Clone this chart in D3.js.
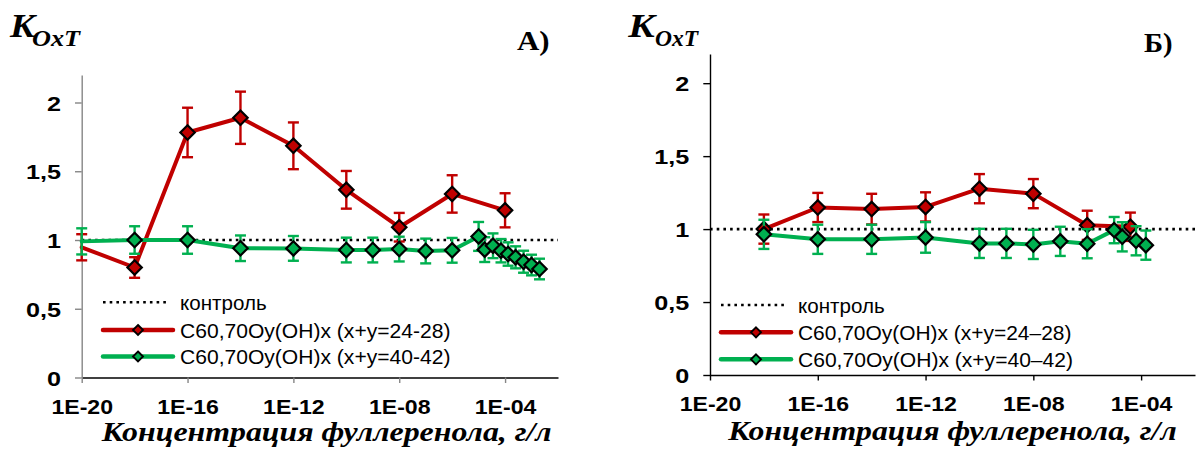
<!DOCTYPE html>
<html><head><meta charset="utf-8">
<script src="https://cdn.jsdelivr.net/npm/d3@7"></script>
<style>body{margin:0;background:#fff}svg{display:block;background:#fff}</style>
</head><body>
<svg id="chart" width="1201" height="450"></svg>
<script>
// ---------- data ----------
const concTicks = [1e-20, 1e-16, 1e-12, 1e-8, 1e-4];
const concTickLabels = ["1E-20", "1E-16", "1E-12", "1E-08", "1E-04"];
const kTicks = [0, 0.5, 1, 1.5, 2];
const kTickLabels = ["0", "0,5", "1", "1,5", "2"];
const controlLevel = 1;

// Panel A
const aRedConc = [1e-20, 1e-18, 1e-16, 1e-14, 1e-12, 1e-10, 1e-8, 1e-6, 1e-4];
const aRedVal  = [0.947, 0.80, 1.782, 1.889, 1.685, 1.365, 1.093, 1.335, 1.216];
const aRedErr  = [0.095, 0.075, 0.18, 0.19, 0.17, 0.137, 0.104, 0.136, 0.124];

const aGreenConc = [1e-20, 1e-18, 1e-16, 1e-14, 1e-12, 1e-10, 1e-9, 1e-8, 1e-7, 1e-6,
                    1e-5, 1.7e-5, 3.5e-5, 7e-5, 1.3e-4, 2.5e-4, 5e-4, 1e-3, 2e-3];
const aGreenVal  = [0.99, 1.0, 1.0, 0.94, 0.939, 0.927, 0.927, 0.934, 0.92, 0.925,
                    1.026, 0.93, 0.958, 0.922, 0.898, 0.874, 0.842, 0.818, 0.789];
const aGreenErr  = [0.095, 0.1, 0.1, 0.093, 0.09, 0.09, 0.09, 0.09, 0.09, 0.09,
                    0.105, 0.09, 0.09, 0.085, 0.085, 0.08, 0.08, 0.075, 0.075];

// Panel Б
const bRedConc = [1e-18, 1e-16, 1e-14, 1e-12, 1e-10, 1e-8, 1e-6, 4e-5];
const bRedVal  = [1.0, 1.148, 1.137, 1.152, 1.277, 1.243, 1.026, 1.016];
const bRedErr  = [0.1, 0.1, 0.105, 0.1, 0.1, 0.1, 0.1, 0.097];

const bGreenConc = [1e-18, 1e-16, 1e-14, 1e-12, 1e-10, 1e-9, 1e-8, 1e-7, 1e-6, 1e-5, 2e-5, 6.5e-5, 1.5e-4];
const bGreenVal  = [0.964, 0.93, 0.93, 0.943, 0.902, 0.902, 0.895, 0.916, 0.9, 0.993, 0.947, 0.92, 0.89];
const bGreenErr  = [0.1, 0.1, 0.1, 0.105, 0.1, 0.1, 0.1, 0.1, 0.1, 0.09, 0.1, 0.1, 0.1];

const legendA = ["контроль", "C60,70Oy(OH)x (x+y=24-28)", "C60,70Oy(OH)x (x+y=40-42)"];
const legendB = ["контроль", "C60,70Oy(OH)x (x+y=24–28)", "C60,70Oy(OH)x (x+y=40–42)"];
const xTitle = "Концентрация фуллеренола, г/л";
const yTitleMain = "K";
const yTitleSub = "OxT";
const panelLabels = ["А)", "Б)"];

// ---------- styling ----------
const RED = "#C00000", GREEN = "#00B050";
const SANS = "'Liberation Sans', Arial, sans-serif";
const SERIF = "'Liberation Serif', 'Times New Roman', serif";

const svg = d3.select("#chart");

function diamond(r) { return `M0,${-r}L${r},0L0,${r}L${-r},0Z`; }

function drawPanel(p) {
  const g = svg.append("g");
  const x = d3.scaleLog().domain([1e-20, 1e-2]).range([p.x0, p.x1]);
  const y = d3.scaleLinear().domain([0, 2.2]).range([p.y0, p.yTop]);

  // control line
  g.append("line")
    .attr("x1", x(1e-20)).attr("x2", x(1e-2))
    .attr("y1", y(controlLevel)).attr("y2", y(controlLevel))
    .attr("stroke", "#000").attr("stroke-width", 2.6)
    .attr("stroke-dasharray", "2.6,4.1");

  // x axis
  const gx = g.append("g").attr("transform", `translate(0,${p.y0})`)
    .call(d3.axisBottom(x).tickValues(concTicks)
      .tickFormat((d, i) => concTickLabels[i]).tickSize(5.5).tickSizeOuter(0));
  gx.select(".domain").attr("stroke", p.xAxisColor).attr("stroke-width", 1.4);
  gx.selectAll(".tick line").attr("stroke", p.yAxisColor).attr("stroke-width", 1.4);
  gx.selectAll(".tick text")
    .attr("y", 36.5).attr("dy", null)
    .attr("font-family", SANS).attr("font-weight", "bold").attr("font-size", 21)
    .attr("fill", "#000").attr("transform", "scale(1.1,1)");

  // y axis
  const gy = g.append("g").attr("transform", `translate(${p.x0},0)`)
    .call(d3.axisLeft(y).tickValues(kTicks)
      .tickFormat((d, i) => kTickLabels[i]).tickSize(6.7).tickSizeOuter(0));
  gy.select(".domain").attr("stroke", p.yAxisColor).attr("stroke-width", 1.4);
  gy.selectAll(".tick line").attr("stroke", p.yAxisColor).attr("stroke-width", 1.4);
  const sy = 1.2;
  gy.selectAll(".tick text")
    .attr("x", -20.7 / sy).attr("dy", null).attr("y", 7.5)
    .attr("text-anchor", "end")
    .attr("font-family", SANS).attr("font-weight", "bold").attr("font-size", 21)
    .attr("fill", "#000").attr("transform", `scale(${sy},1)`);

  // series
  function series(conc, val, err, color, skipFirstMarker) {
    const pts = conc.map((c, i) => ({c, v: val[i], e: err[i], i}));
    const sg = g.append("g");
    const eb = sg.selectAll(".eb").data(pts).enter().append("g")
      .attr("stroke", color).attr("stroke-width", 2.4);
    eb.append("line").attr("x1", d => x(d.c)).attr("x2", d => x(d.c))
      .attr("y1", d => y(d.v + d.e)).attr("y2", d => y(d.v - d.e));
    eb.append("line").attr("x1", d => x(d.c) - 5.5).attr("x2", d => x(d.c) + 5.5)
      .attr("y1", d => y(d.v + d.e)).attr("y2", d => y(d.v + d.e));
    eb.append("line").attr("x1", d => x(d.c) - 5.5).attr("x2", d => x(d.c) + 5.5)
      .attr("y1", d => y(d.v - d.e)).attr("y2", d => y(d.v - d.e));
    sg.append("path").datum(pts)
      .attr("d", d3.line().x(d => x(d.c)).y(d => y(d.v)))
      .attr("fill", "none").attr("stroke", color).attr("stroke-width", 4)
      .attr("stroke-linejoin", "round").attr("stroke-linecap", "round");
    sg.selectAll(".mk").data(pts.filter(d => !(skipFirstMarker && d.i === 0))).enter()
      .append("path").attr("d", diamond(7.2))
      .attr("transform", d => `translate(${x(d.c)},${y(d.v)})`)
      .attr("fill", color).attr("stroke", "#000").attr("stroke-width", 2.2)
      .attr("stroke-linejoin", "miter");
  }
  series(p.redConc, p.redVal, p.redErr, RED, p.skipFirst);
  series(p.greenConc, p.greenVal, p.greenErr, GREEN, p.skipFirst);

  // legend
  const L = p.legend;
  g.append("line").attr("x1", L.x0).attr("x2", L.x1).attr("y1", L.ys[0]).attr("y2", L.ys[0])
    .attr("stroke", "#000").attr("stroke-width", 2.6).attr("stroke-dasharray", "2.6,4.1");
  [RED, GREEN].forEach((col, k) => {
    const yy = L.ys[k + 1];
    g.append("line").attr("x1", L.x0).attr("x2", L.x1 + 3).attr("y1", yy).attr("y2", yy)
      .attr("stroke", col).attr("stroke-width", 4.5).attr("stroke-linecap", "round");
    g.append("path").attr("d", diamond(5))
      .attr("transform", `translate(${(L.x0 + L.x1 + 3) / 2},${yy})`)
      .attr("fill", col).attr("stroke", "#000").attr("stroke-width", 1.9);
  });
  p.legendLabels.forEach((t, k) => {
    g.append("text").attr("x", L.tx).attr("y", L.ys[k] + 7.5)
      .attr("font-family", SANS).attr("font-size", 20).attr("fill", "#000")
      .attr("textLength", L.tw[k]).attr("lengthAdjust", "spacingAndGlyphs")
      .text(t);
  });

  // titles
  const T = p.titles;
  g.append("text").attr("x", T.kx).attr("y", 36.7)
    .attr("font-family", SERIF).attr("font-weight", "bold").attr("font-style", "italic")
    .attr("font-size", 34).attr("textLength", T.kw).attr("lengthAdjust", "spacingAndGlyphs")
    .text(yTitleMain);
  g.append("text").attr("x", T.sx).attr("y", 45.5)
    .attr("font-family", SERIF).attr("font-weight", "bold").attr("font-style", "italic")
    .attr("font-size", 24).attr("textLength", T.sw).attr("lengthAdjust", "spacingAndGlyphs")
    .text(yTitleSub);
  g.append("text").attr("x", T.px).attr("y", T.py)
    .attr("font-family", SERIF).attr("font-weight", "bold")
    .attr("font-size", 27).attr("textLength", T.pw).attr("lengthAdjust", "spacingAndGlyphs")
    .text(p.panelLabel);
  g.append("text").attr("x", T.xtx).attr("y", T.xty)
    .attr("font-family", SERIF).attr("font-weight", "bold").attr("font-style", "italic")
    .attr("font-size", 26.5).attr("textLength", T.xtw).attr("lengthAdjust", "spacingAndGlyphs")
    .text(xTitle);
}

drawPanel({
  x0: 81.7, x1: 558, y0: 377.5, yTop: 75,
  xAxisColor: "#000", yAxisColor: "#868686",
  redConc: aRedConc, redVal: aRedVal, redErr: aRedErr,
  greenConc: aGreenConc, greenVal: aGreenVal, greenErr: aGreenErr,
  skipFirst: true,
  legendLabels: legendA,
  legend: { x0: 103, x1: 170, ys: [302.3, 330, 356.5], tx: 180, tw: [86.6, 270.4, 270.4] },
  panelLabel: panelLabels[0],
  titles: { kx: 10, kw: 25, sx: 32, sw: 48, px: 517, py: 50, pw: 32.6,
            xtx: 101.7, xty: 441, xtw: 450 }
});

drawPanel({
  x0: 710, x1: 1195, y0: 375, yTop: 54,
  xAxisColor: "#000", yAxisColor: "#000",
  redConc: bRedConc, redVal: bRedVal, redErr: bRedErr,
  greenConc: bGreenConc, greenVal: bGreenVal, greenErr: bGreenErr,
  skipFirst: false,
  legendLabels: legendB,
  legend: { x0: 721, x1: 788, ys: [305, 332.3, 359.3], tx: 798, tw: [86.6, 273.4, 275] },
  panelLabel: panelLabels[1],
  titles: { kx: 628.3, kw: 26.5, sx: 655, sw: 43, px: 1144, py: 51.7, pw: 28.6,
            xtx: 728.3, xty: 440, xtw: 448.4 }
});
</script>
</body></html>
